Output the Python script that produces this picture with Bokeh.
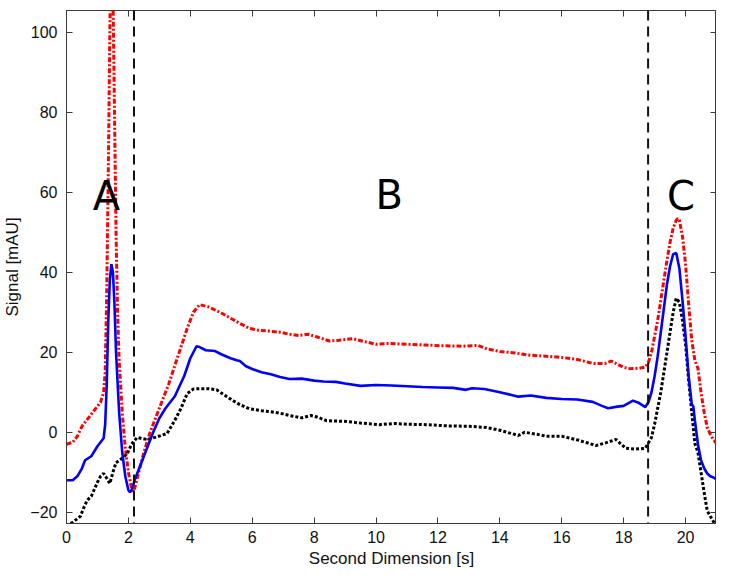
from bokeh.plotting import figure
from bokeh.models import LinearAxis, Span, Range1d, FixedTicker, ColumnDataSource
from bokeh.embed import file_html
from bokeh.resources import INLINE
from bokeh.core.properties import value

# ---- data ----
blue_x = [0, 0.2, 0.35, 0.5, 0.6, 0.8, 1.0, 1.1, 1.2, 1.25, 1.3, 1.35, 1.4, 1.45, 1.5, 1.55, 1.6, 1.7, 1.8, 1.9,
          2.0, 2.05, 2.1, 2.2, 2.4, 2.6, 2.8, 3.0, 3.2, 3.5, 3.8, 4.0, 4.2, 4.3, 4.5, 4.8, 5.0, 5.3, 5.5, 5.6,
          5.8, 6.0, 6.3, 6.6, 6.9, 7.2, 7.6, 8.0, 8.3, 8.7, 9.0, 9.5, 10.0, 10.5, 11.0, 11.5, 12.0, 12.5, 12.9,
          13.1, 13.5, 14.0, 14.6, 15.0, 15.5, 16.0, 16.5, 17.0, 17.3, 17.5, 17.8, 18.0, 18.3, 18.5, 18.7, 18.8,
          18.9, 19.0, 19.1, 19.2, 19.3, 19.4, 19.5, 19.6, 19.7, 19.8, 19.9, 20.0, 20.1, 20.2, 20.25, 20.3, 20.4,
          20.5, 20.6, 20.7, 20.8, 20.9, 21.0]
blue_y = [-12, -12, -11, -9, -7, -6, -3.5, -2.5, -1.5, 2, 12, 28, 38, 42, 40, 32, 20, 5, -5, -11,
          -14.5, -15, -14.5, -12, -8, -4, 0, 3.5, 6, 9, 14, 18.5, 21.5, 21.3, 20.5, 20.3, 19.5, 18.5, 18, 17.8,
          16.5, 15.8, 15, 14.5, 13.8, 13.3, 13.4, 12.9, 12.7, 12.6, 12.2, 11.6, 11.8, 11.7, 11.5, 11.3, 11.2, 11.1, 10.6,
          11, 10.8, 10, 8.9, 9.2, 8.6, 8.3, 8.2, 7.6, 6.6, 6.0, 6.4, 6.6, 7.9, 7.3, 6.3, 7.5,
          10, 14, 19, 25, 31, 37, 41.5, 44.5, 44.8, 41, 33, 24, 14, 7, 6.5, 3, -3,
          -7, -9, -10.3, -11, -11.3, -11.8]

red_x = [0, 0.2, 0.35, 0.5, 0.6, 0.8, 0.9, 1.0, 1.1, 1.2, 1.25, 1.3, 1.35, 1.4, 1.45, 1.5, 1.55, 1.6, 1.65, 1.7,
         1.8, 1.9, 2.0, 2.1, 2.15, 2.2, 2.3, 2.5, 2.7, 3.0, 3.3, 3.6, 3.9, 4.1, 4.3, 4.6, 5.0, 5.3, 5.6, 5.9,
         6.2, 6.5, 6.9, 7.2, 7.5, 7.8, 8.1, 8.5, 8.8, 9.25, 9.6, 10.0, 10.4, 11.0, 11.6, 12.2, 12.8, 13.3, 13.6,
         14.0, 14.5, 14.9, 15.5, 16.0, 16.5, 17.0, 17.4, 17.6, 17.8, 18.0, 18.2, 18.5, 18.7, 18.8, 18.9, 19.0,
         19.1, 19.2, 19.3, 19.4, 19.5, 19.6, 19.7, 19.75, 19.8, 19.9, 20.0, 20.1, 20.2, 20.3, 20.4, 20.5, 20.6,
         20.7, 20.8, 20.9, 21.0]
red_y = [-3, -2.5, -1, 1.5, 2.5, 4.5, 5.5, 6.5, 7.5, 10, 15, 35, 65, 100, 125, 110, 80, 50, 30, 18,
         5, -4, -10, -14, -14.8, -14, -11, -5, 0, 6, 12, 19, 26, 30, 31.9, 31.3, 29.8, 28.5, 27.2, 26,
         25.5, 25.3, 25, 24.5, 24.2, 24.5, 23.8, 22.8, 23, 23.4, 22.7, 22.0, 22.2, 22, 21.8, 21.6, 21.5, 21.7, 20.8,
         20.2, 19.8, 19.3, 19, 18.7, 18.2, 17.2, 17.2, 17.8, 17.0, 16.2, 15.9, 16.0, 16.3, 17.5, 20, 24,
         28, 33, 38, 43, 47.5, 51, 53, 53.4, 53, 49, 42, 32, 23, 18, 16, 10, 5,
         1.2, -0.5, -1.8, -2.8]

black_x = [0, 0.2, 0.45, 0.55, 0.67, 0.8, 1.0, 1.1, 1.2, 1.3, 1.4, 1.5, 1.6, 1.8, 1.96, 2.1, 2.28, 2.45, 2.6, 2.9,
           3.25, 3.5, 3.7, 3.9, 4.1, 4.3, 4.6, 4.85, 5.1, 5.4, 5.6, 5.9, 6.3, 6.7, 7.0, 7.2, 7.6, 7.9, 8.1, 8.4,
           8.7, 9.05, 9.5, 10.1, 10.6, 11.0, 11.6, 12.3, 13.0, 13.56, 14.0, 14.6, 14.8, 15.2, 15.5, 16.0, 16.55,
           17.1, 17.4, 17.75, 18.07, 18.4, 18.7, 18.9, 19.0, 19.1, 19.2, 19.3, 19.4, 19.5, 19.6, 19.7, 19.8, 19.9,
           20.0, 20.1, 20.2, 20.3, 20.4, 20.5, 20.6, 20.7, 20.8, 20.9, 21.0]
black_y = [-23.5, -22.5, -21, -19, -17, -16, -12.5, -11, -10.3, -11.5, -12.8, -10, -7.6, -6.5, -5.4, -3, -1.3, -1.6, -1.8, -1.2,
           -0.3, 3, 6, 9.7, 10.8, 10.9, 10.9, 10.6, 9.3, 7.8, 6.9, 5.9, 5.4, 5.0, 4.6, 4.2, 3.6, 4.2, 3.8, 2.9,
           2.8, 2.7, 2.3, 1.9, 2.2, 2.0, 1.9, 1.6, 1.5, 1.2, 0.5, -0.8, 0, -0.5, -1, -1, -2,
           -3.3, -2.7, -1.8, -4, -4.2, -4, -1.3, 2, 6, 10, 15, 20, 25, 30, 33.5, 32.5, 28,
           22, 13, 5, -2.8, -5, -10, -15, -19.6, -21, -22.3, -23.5]

region_labels = ["A", "B", "C"]
region_x = [1.29, 10.43, 19.85]
region_y = [59.0, 59.3, 59.0]

boundaries = [2.18, 18.79]

x_ticks = [0, 2, 4, 6, 8, 10, 12, 14, 16, 18, 20]
y_ticks = [-20, 0, 20, 40, 60, 80, 100]

# ---- figure ----
FRAME = "#3a3a3a"
p = figure(width=716, height=576, x_range=Range1d(0, 21), y_range=Range1d(-22.8, 105.4),
           output_backend="svg", toolbar_location=None,
           min_border_left=58, min_border_right=0, min_border_top=10, min_border_bottom=53)
p.background_fill_color = "white"
p.border_fill_color = "white"
p.outline_line_color = FRAME
p.outline_line_width = 1
p.xgrid.visible = False
p.ygrid.visible = False

for ax, ticks in ((p.xaxis[0], x_ticks), (p.yaxis[0], y_ticks)):
    ax.ticker = FixedTicker(ticks=ticks)
    ax.major_tick_in = 6
    ax.major_tick_out = 0
    ax.minor_tick_line_color = None
    ax.major_tick_line_color = FRAME
    ax.axis_line_color = FRAME
    ax.major_label_text_font = "Liberation Sans"
    ax.major_label_text_font_size = "16px"
    ax.major_label_text_color = "#111111"
    ax.axis_label_text_font = "Liberation Sans"
    ax.axis_label_text_font_size = "17px"
    ax.axis_label_text_font_style = "normal"
    ax.axis_label_text_color = "#111111"

p.xaxis[0].axis_label = "Second Dimension [s]"
p.xaxis[0].major_label_standoff = 7
p.xaxis[0].axis_label_standoff = 3
p.yaxis[0].axis_label = "Signal [mAU]"
p.yaxis[0].major_label_standoff = 9
p.yaxis[0].axis_label_standoff = 5

# tick marks on the top and right edges (labels not drawn)
top = LinearAxis(ticker=FixedTicker(ticks=x_ticks))
right = LinearAxis(ticker=FixedTicker(ticks=y_ticks))
for ax in (top, right):
    ax.major_tick_in = 6
    ax.major_tick_out = 0
    ax.minor_tick_line_color = None
    ax.major_tick_line_color = FRAME
    ax.axis_line_color = FRAME
    ax.major_label_text_font_size = "1px"
    ax.major_label_text_color = None
    ax.major_label_standoff = 0
p.add_layout(top, "above")
p.add_layout(right, "right")

# traces
p.line(red_x, red_y, line_color="#ff0000", line_width=3, line_dash="5 2 2 2")
p.line(black_x, black_y, line_color="#000000", line_width=3, line_dash="3 2")
p.line(blue_x, blue_y, line_color="#0000ff", line_width=2.6)

for b in boundaries:
    p.add_layout(Span(location=b, dimension="height", line_color="#111111",
                      line_width=2, line_dash="10 6"))

src = ColumnDataSource(dict(x=region_x, y=region_y, t=region_labels))
p.text(x="x", y="y", text="t", source=src, text_font=value("DejaVu Sans"),
       text_font_size="40px", text_align="center", text_baseline="alphabetic", text_color="#000000")

open("out.html", "w").write(file_html(p, INLINE))
